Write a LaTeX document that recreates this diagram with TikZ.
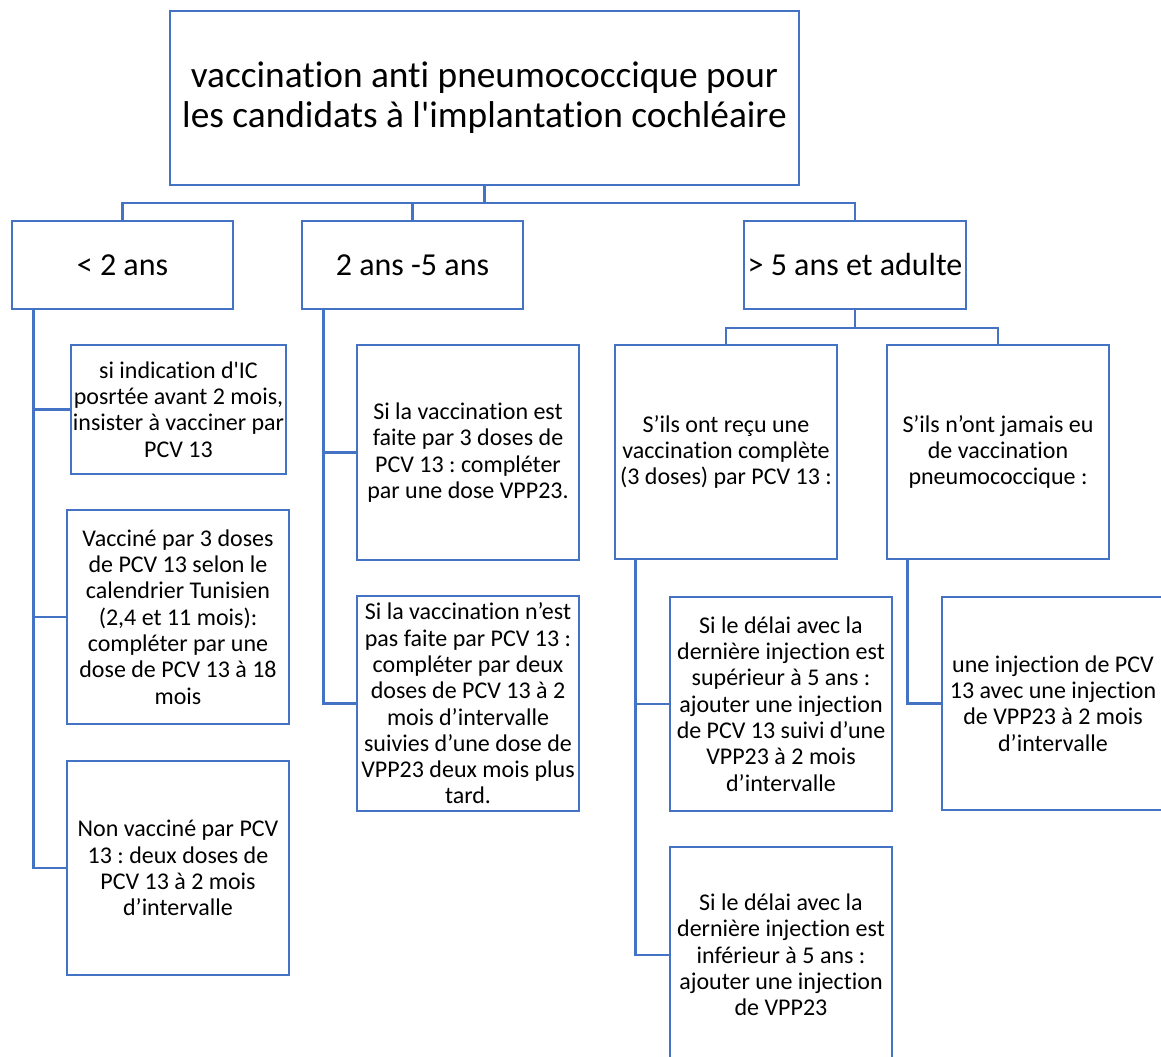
\documentclass[tikz,border=0pt]{standalone}
\usepackage{fontspec}
\setmainfont{Carlito}[Ligatures={CommonOff,TeXOff}]
\definecolor{obl}{HTML}{4472C4}
\frenchspacing
\begin{document}
\begin{tikzpicture}[x=0.75pt,y=-0.75pt,
  bx/.style={draw=obl,line width=1.9pt,rectangle,inner sep=0pt,align=center,text=black},
  sm/.style={bx,font=\fontsize{18}{19.7}\selectfont},
  ag/.style={bx,font=\fontsize{24}{28}\selectfont},
  ln/.style={draw=obl,line width=1.9pt}]
\useasboundingbox (0,0) rectangle (1161,1057);
\clip (0,0) rectangle (1161,1057);
% title
\node[bx,minimum width=629*0.75pt,minimum height=174*0.75pt,font=\fontsize{28}{30}\selectfont] (top) at (484.5,98)
  {vaccination anti pneumococcique pour\\les candidats à l'implantation cochléaire};
% age groups
\node[ag,minimum width=221*0.75pt,minimum height=88*0.75pt] (A) at (122.5,265) {< 2 ans};
\node[ag,minimum width=221*0.75pt,minimum height=88*0.75pt] (B) at (412.5,265) {2 ans -5 ans};
\node[ag,minimum width=222*0.75pt,minimum height=88*0.75pt] (C) at (855,265) {> 5 ans et adulte};
% < 2 ans
\node[sm,minimum width=215*0.75pt,minimum height=129*0.75pt] (L1) at (178.5,409.5)
  {si indication d'IC\\posrtée avant 2 mois,\\insister à vacciner par\\PCV 13};
\node[sm,minimum width=222*0.75pt,minimum height=214*0.75pt] (L2) at (178,617)
  {Vacciné par 3 doses\\de PCV 13 selon le\\calendrier Tunisien\\(2,4 et 11 mois):\\compléter par une\\dose de PCV 13 à 18\\mois};
\node[sm,minimum width=222*0.75pt,minimum height=214*0.75pt] (L3) at (178,868)
  {Non vacciné par PCV\\13 : deux doses de\\PCV 13 à 2 mois\\d’intervalle};
% 2-5 ans
\node[sm,minimum width=222*0.75pt,minimum height=215*0.75pt] (M1) at (468,452.5)
  {Si la vaccination est\\faite par 3 doses de\\PCV 13 : compléter\\par une dose VPP23.};
\node[sm,minimum width=222*0.75pt,minimum height=215*0.75pt] (M2) at (468,703.5)
  {Si la vaccination n’est\\pas faite par PCV 13 :\\compléter par deux\\doses de PCV 13 à 2\\mois d’intervalle\\suivies d’une dose de\\VPP23 deux mois plus\\tard.};
% > 5 ans
\node[sm,minimum width=222*0.75pt,minimum height=214*0.75pt] (R1) at (726,452)
  {S’ils ont reçu une\\vaccination complète\\(3 doses) par PCV 13 :};
\node[sm,minimum width=222*0.75pt,minimum height=214*0.75pt] (R2) at (998,452)
  {S’ils n’ont jamais eu\\de vaccination\\pneumococcique :};
\node[sm,minimum width=222*0.75pt,minimum height=214*0.75pt] (R1a) at (781,704)
  {Si le délai avec la\\dernière injection est\\supérieur à 5 ans :\\ajouter une injection\\de PCV 13 suivi d’une\\VPP23 à 2 mois\\d’intervalle};
\node[sm,minimum width=222*0.75pt,minimum height=216*0.75pt] (R1b) at (781,955)
  {Si le délai avec la\\dernière injection est\\inférieur à 5 ans :\\ajouter une injection\\de VPP23};
\node[sm,minimum width=222*0.75pt,minimum height=213*0.75pt] (R2a) at (1053,703.5)
  {une injection de PCV\\13 avec une injection\\de VPP23 à 2 mois\\d’intervalle};
% connectors
\coordinate (bar) at (0,203);
\draw[ln] (top.south) -- (top.south |- bar);
\draw[ln] (A.north) |- (bar -| C.north) -- (C.north);
\draw[ln] (B.north) -- (B.north |- bar);
\coordinate (ta) at ([xshift=22.5*0.75pt]A.south west);
\draw[ln] (ta) |- (L1.west);
\draw[ln] (ta) |- (L2.west);
\draw[ln] (ta) |- (L3.west);
\coordinate (tb) at ([xshift=22.5*0.75pt]B.south west);
\draw[ln] (tb) |- (M1.west);
\draw[ln] (tb) |- (M2.west);
\coordinate (cbar) at (0,328);
\draw[ln] (C.south) -- (C.south |- cbar);
\draw[ln] (R1.north) |- (cbar -| R2.north) -- (R2.north);
\coordinate (tr1) at ([xshift=22*0.75pt]R1.south west);
\draw[ln] (tr1) |- (R1a.west);
\draw[ln] (tr1) |- (R1b.west);
\coordinate (tr2) at ([xshift=22*0.75pt]R2.south west);
\draw[ln] (tr2) |- (R2a.west);
\end{tikzpicture}
\end{document}
